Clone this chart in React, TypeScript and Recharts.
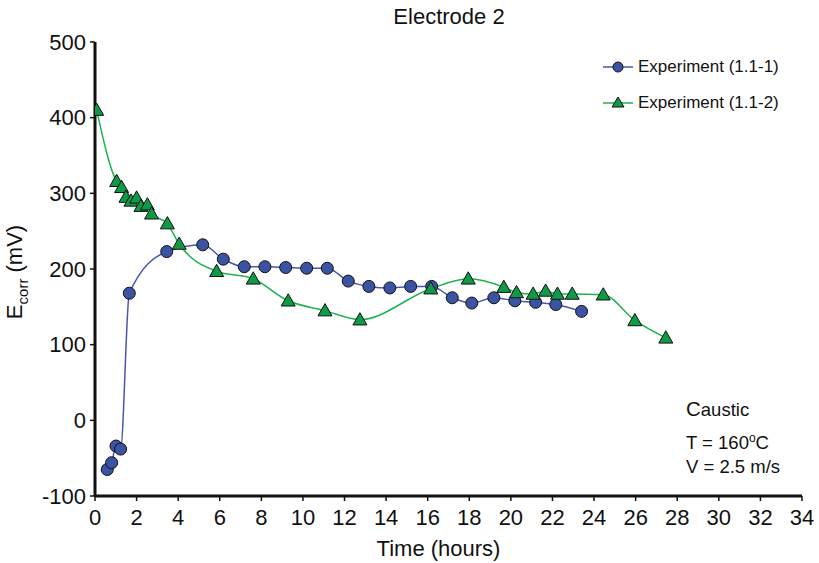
import { Legend, Line, LineChart, XAxis, YAxis } from 'recharts'

// Experiment (1.1-1): time in hours, potential in mV
const exp1Hours = [0.59, 0.8, 1.01, 1.23, 1.65, 3.45, 5.18, 6.17, 7.18, 8.17, 9.17, 10.18, 11.17, 12.18, 13.17, 14.18, 15.18, 16.19, 17.18, 18.12, 19.18, 20.19, 21.19, 22.16, 23.4]
const exp1Ecorr = [-65, -56, -34, -38, 168, 223, 232, 213, 203, 203, 202, 201, 201, 184, 177, 175, 177, 177, 162, 155, 162, 158, 156, 153, 144]

// Experiment (1.1-2)
const exp2Hours = [0.08, 1.04, 1.28, 1.49, 1.73, 2.0, 2.21, 2.52, 2.72, 3.48, 4.05, 5.85, 7.61, 9.29, 11.06, 12.74, 16.15, 17.95, 19.66, 20.27, 21.07, 21.67, 22.24, 22.95, 24.44, 25.96, 27.45]
const exp2Ecorr = [410, 316, 308, 295, 290, 294, 283, 285, 273, 260, 233, 197, 187, 158, 145, 133, 174, 187, 176, 169, 167, 171, 167, 167, 166, 132, 109]

const xTicks = [0, 2, 4, 6, 8, 10, 12, 14, 16, 18, 20, 22, 24, 26, 28, 30, 32, 34]
const yTicks = [-100, 0, 100, 200, 300, 400, 500]

const exp1 = exp1Hours.map((t, i) => ({ t, e: exp1Ecorr[i] }))
const exp2 = exp2Hours.map((t, i) => ({ t, e: exp2Ecorr[i] }))

const BLUE_LINE = '#4658ab'
const BLUE_FILL = '#3c53a4'
const GREEN_LINE = '#1fb250'
const GREEN_FILL = '#0f9a45'
const FONT = 'Liberation Sans, Arial, sans-serif'

function Circle(props: any) {
  const { cx, cy } = props
  if (cx == null || cy == null) return null
  return <circle cx={cx} cy={cy} r={6} fill={BLUE_FILL} stroke="#111" strokeWidth={1} />
}

function Triangle(props: any) {
  const { cx, cy } = props
  if (cx == null || cy == null) return null
  const s = 7
  return (
    <path
      d={`M${cx},${cy - s} L${cx + s},${cy + s * 0.75} L${cx - s},${cy + s * 0.75} Z`}
      fill={GREEN_FILL}
      stroke="#111"
      strokeWidth={1}
    />
  )
}

function LegendBox() {
  const items = [
    { name: 'Experiment (1.1-1)', color: BLUE_LINE, kind: 'circle' },
    { name: 'Experiment (1.1-2)', color: GREEN_LINE, kind: 'tri' },
  ]
  return (
    <div style={{ position: 'absolute', left: 602, top: 56, fontFamily: FONT, fontSize: 17, color: '#111' }}>
      {items.map((it) => (
        <div key={it.name} style={{ display: 'flex', alignItems: 'center', height: 22, marginBottom: 14 }}>
          <svg width={34} height={20}>
            <line x1={1} y1={10} x2={31} y2={10} stroke={it.color} strokeWidth={1.5} />
            {it.kind === 'circle' ? (
              <circle cx={16} cy={10} r={5} fill={BLUE_FILL} stroke="#111" strokeWidth={1} />
            ) : (
              <path d="M16,4 L22,14 L10,14 Z" fill={GREEN_FILL} stroke="#111" strokeWidth={1} />
            )}
          </svg>
          <span style={{ marginLeft: 2 }}>{it.name}</span>
        </div>
      ))}
    </div>
  )
}

function YLabel() {
  return (
    <text x={22} y={272} transform="rotate(-90 22 272)" textAnchor="middle" fontFamily={FONT} fontSize={22} fill="#111">
      E
      <tspan fontSize={15} dy={6}>corr</tspan>
      <tspan dy={-6}> (mV)</tspan>
    </text>
  )
}

export default function App() {
  return (
    <div style={{ position: 'relative', width: 819, height: 563, background: '#fff' }}>
      <style>{'body{margin:0}'}</style>
      <div style={{ position: 'absolute', left: 0, width: 898, top: 4, textAlign: 'center', fontFamily: FONT, fontSize: 22, color: '#111' }}>
        Electrode 2
      </div>
      <LineChart width={819} height={563} margin={{ top: 42, right: 17, left: 35, bottom: 27 }}>
        <XAxis
          type="number"
          dataKey="t"
          domain={[0, 34]}
          ticks={xTicks}
          interval={0}
          allowDataOverflow
          height={40}
          tick={{ fill: '#111', fontSize: 22, fontFamily: FONT }}
          tickSize={5}
          tickMargin={8}
          tickLine={{ stroke: '#111', strokeWidth: 1.5 }}
          axisLine={{ stroke: '#111', strokeWidth: 3 }}
          label={{ value: 'Time (hours)', position: 'insideBottom', offset: -20, dx: -10, fill: '#111', fontSize: 22, fontFamily: FONT }}
        />
        <YAxis
          type="number"
          dataKey="e"
          domain={[-100, 500]}
          ticks={yTicks}
          interval={0}
          width={60}
          tick={{ fill: '#111', fontSize: 22, fontFamily: FONT }}
          tickSize={5}
          tickMargin={4}
          tickLine={{ stroke: '#111', strokeWidth: 1.5 }}
          axisLine={{ stroke: '#111', strokeWidth: 3 }}
        />
        <Legend content={() => null} />
        <Line
          data={exp1}
          dataKey="e"
          name="Experiment (1.1-1)"
          type="monotone"
          stroke={BLUE_LINE}
          strokeWidth={1.5}
          dot={<Circle />}
          activeDot={false}
          isAnimationActive={false}
        />
        <Line
          data={exp2}
          dataKey="e"
          name="Experiment (1.1-2)"
          type="monotone"
          stroke={GREEN_LINE}
          strokeWidth={1.5}
          dot={<Triangle />}
          activeDot={false}
          isAnimationActive={false}
        />
        <YLabel />
      </LineChart>
      <LegendBox />
      <div style={{ position: 'absolute', left: 686, top: 395, fontFamily: FONT, fontSize: 18.5, color: '#111', lineHeight: '28px' }}>
        <div><span style={{ fontSize: 20.5 }}>C</span>austic</div>
        <div style={{ marginTop: 0 }}>T = 160<sup style={{ fontSize: 12 }}>o</sup>C</div>
        <div style={{ marginTop: -4 }}>V = 2.5 m/s</div>
      </div>
    </div>
  )
}
